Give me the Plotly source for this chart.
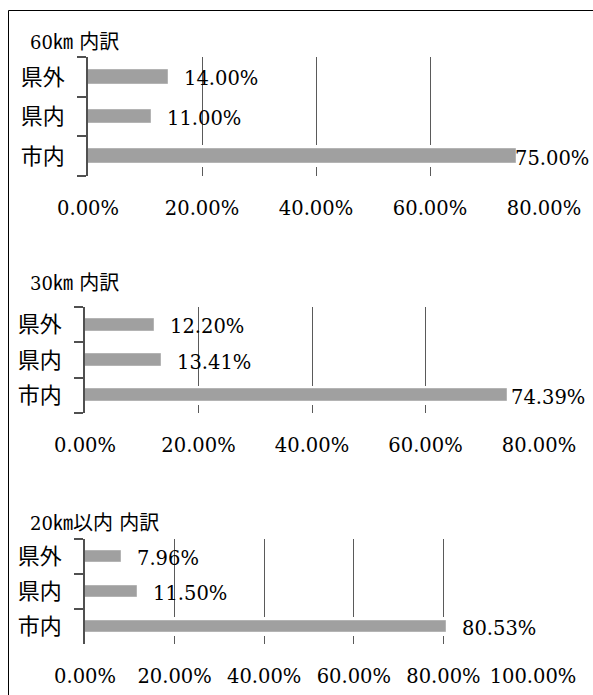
import plotly.graph_objects as go

W, H = 593, 695

# Categories, bottom to top
categories = ["市内", "県内", "県外"]

# Panel headings: (distance, unit, suffix, label)
titles = [("60", "㎞", "", "内訳"), ("30", "㎞", "", "内訳"), ("20", "㎞", "以内", "内訳")]

# Share of visitors per origin (%), one list per distance band
values_60 = [75.00, 11.00, 14.00]
values_30 = [74.39, 13.41, 12.20]
values_20 = [80.53, 11.50, 7.96]
x_max = [80, 80, 100]

series = [values_60, values_30, values_20]

# Plot-area boxes in pixels: (left, right, top, bottom)
boxes = [(88, 544, 57, 176), (85, 539, 307, 413), (85, 533, 539, 644)]
title_y = [42, 283, 523]
# Horizontal nudge of each value label (px), per panel, ordered like categories
label_shift = [[-3, 14, 14], [2, 14, 14], [14, 14, 14]]

NUM_FONT = "DejaVu Serif, Liberation Serif, serif"
CJK_FONT = "Noto Sans CJK JP"
BAR = "#a0a0a0"
GRID = "#5a5a5a"

fig = go.Figure()
annotations = []

for i, (vals, box) in enumerate(zip(series, boxes)):
    l, r, t, b = box
    sfx = "" if i == 0 else str(i + 1)
    xa, ya = "x" + sfx, "y" + sfx
    # white band under each bar so the grid is interrupted around it
    fig.add_trace(go.Bar(
        x=vals, y=categories, orientation="h", width=0.55,
        marker=dict(color="white", line=dict(width=0)),
        xaxis=xa, yaxis=ya, hoverinfo="skip", showlegend=False))
    fig.add_trace(go.Bar(
        x=vals, y=categories, orientation="h", width=0.34,
        marker=dict(color=BAR, line=dict(color="#b4b4b4", width=1)),
        xaxis=xa, yaxis=ya, showlegend=False))

    fig.layout["xaxis" + sfx] = dict(
        domain=[l / W, r / W], anchor=ya, range=[0, x_max[i]],
        dtick=20, tick0=0, tickformat=".2f", ticksuffix="%",
        showgrid=True, gridcolor=GRID, gridwidth=1,
        zeroline=False, showline=False, ticks="",
        ticklabelstandoff=18, tickangle=0, automargin=False,
        tickfont=dict(family=NUM_FONT, size=19.5, color="black"),
        fixedrange=True)
    fig.layout["yaxis" + sfx] = dict(
        domain=[1 - b / H, 1 - t / H], anchor=xa,
        type="category", categoryorder="array", categoryarray=categories,
        range=[-0.5, 2.5], showgrid=False, zeroline=False,
        showline=True, linecolor="#505050", linewidth=1.5,
        ticks="outside", tickson="boundaries", ticklen=9,
        tickcolor="#505050", tickwidth=1.5,
        ticklabelstandoff=17, automargin=False,
        tickfont=dict(family=CJK_FONT, size=22, color="black"),
        fixedrange=True)

    for cat, v, dx in zip(categories, vals, label_shift[i]):
        annotations.append(dict(
            x=v, y=cat, xref=xa, yref=ya, xanchor="left", yanchor="middle",
            xshift=dx, yshift=-2, text=f"{v:.2f}%", showarrow=False,
            font=dict(family=NUM_FONT, size=19.5, color="black")))

    num, unit, suffix, label = titles[i]
    heading = (f"<span style='font-size:18px'>{num}</span>"
               f"<span style='font-size:20px'>{unit}{suffix} {label}</span>")
    annotations.append(dict(
        x=28 / W, y=1 - title_y[i] / H, xref="paper", yref="paper",
        xanchor="left", yanchor="middle", text=heading, showarrow=False,
        font=dict(family="DejaVu Serif, Noto Sans CJK JP", size=18,
                  color="black")))

fig.update_layout(
    width=W, height=H, margin=dict(l=0, r=0, t=0, b=0, autoexpand=False),
    paper_bgcolor="white", plot_bgcolor="white",
    barmode="overlay", bargap=0, annotations=annotations,
    shapes=[dict(type="rect", xref="paper", yref="paper",
                 x0=8.5 / W, x1=1.02, y0=-0.02, y1=1 - 10.5 / H,
                 line=dict(color="black", width=1))],
)

fig.write_html("out.html")
